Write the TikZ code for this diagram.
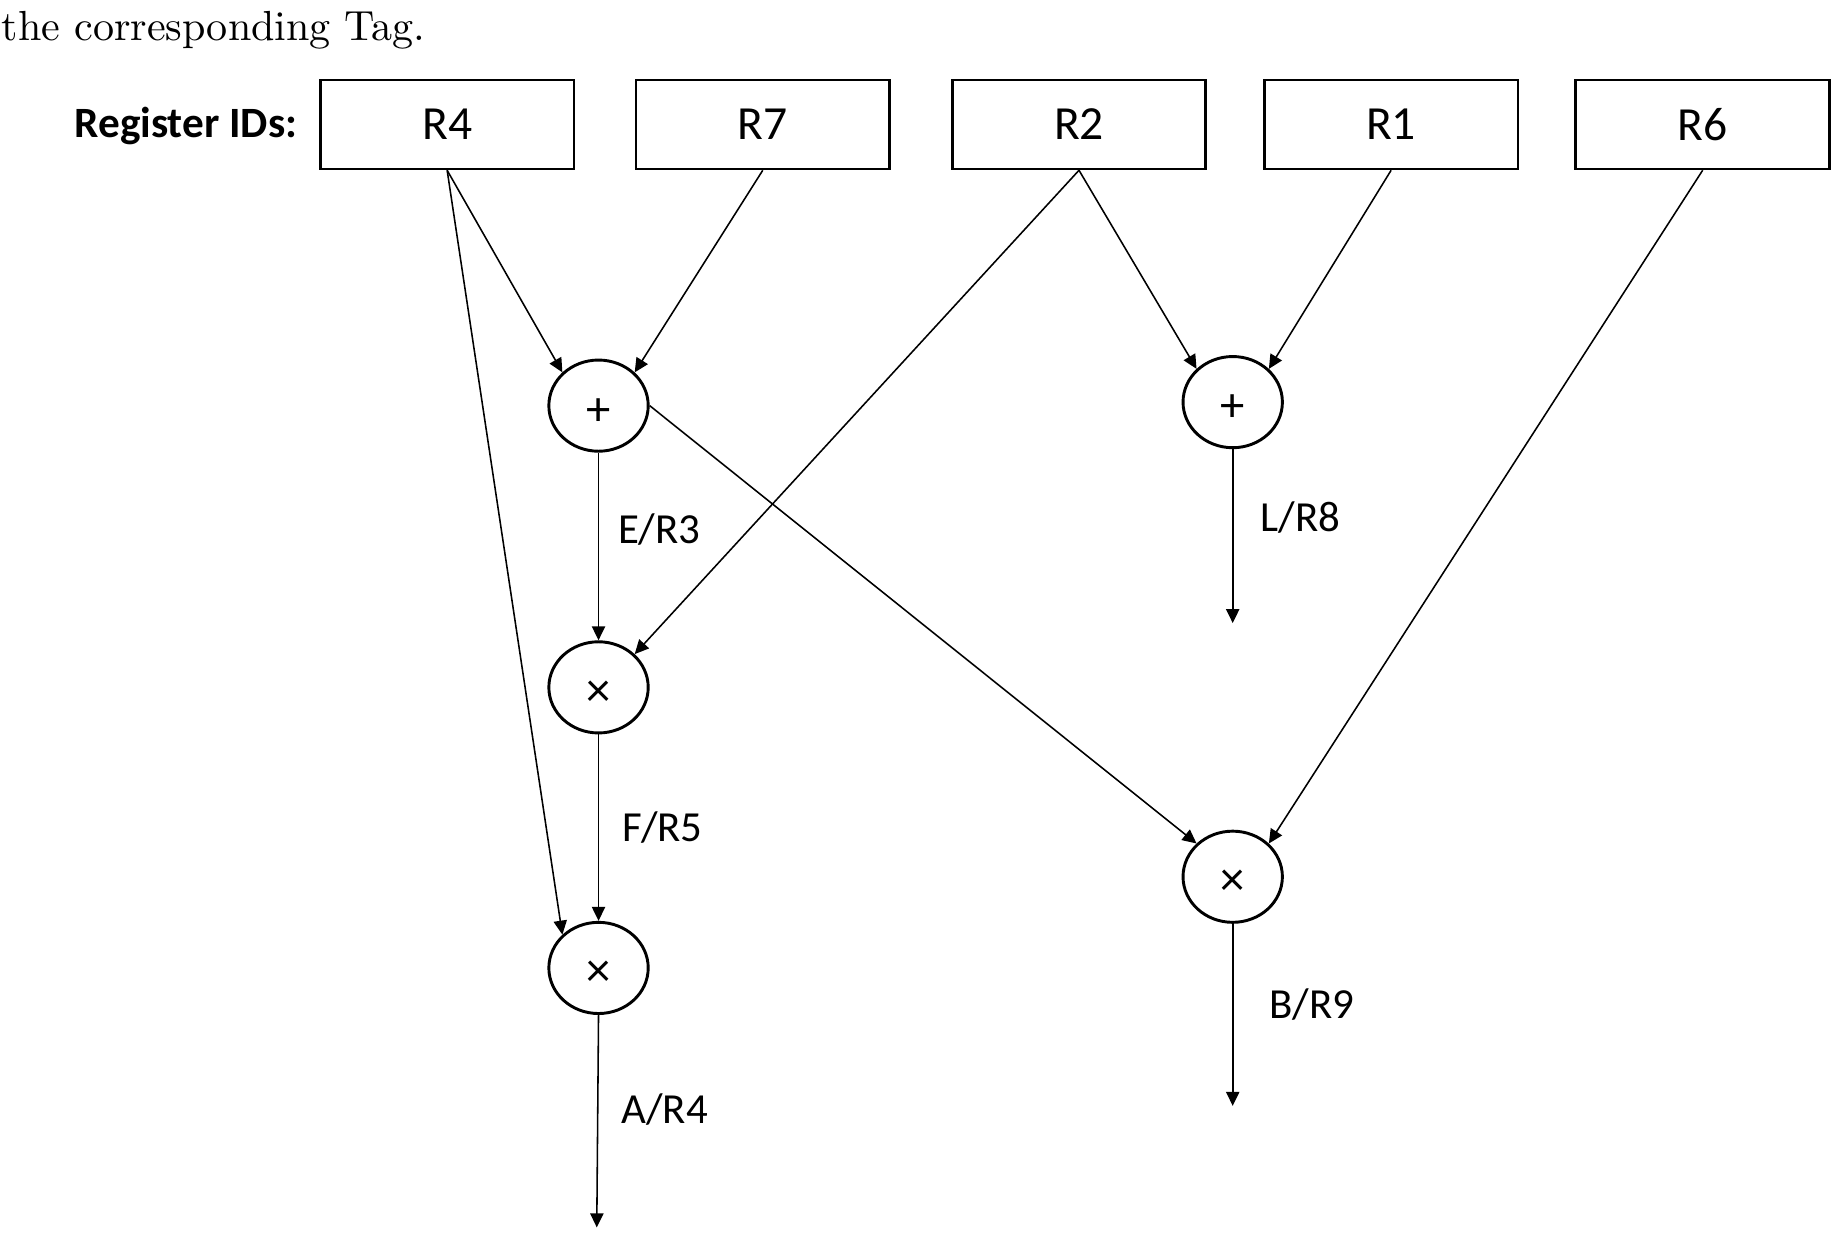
\documentclass[tikz,border=0pt]{standalone}
\usepackage{fontspec}
\newfontfamily\calib{Carlito}
\usetikzlibrary{shapes.geometric,arrows.meta}

% operator glyph, lowered onto the circle's centre while keeping its box
\newcommand{\opsym}[1]{\raisebox{-1.6pt}[\height][\depth]{#1}}

\begin{document}
\begin{tikzpicture}[x=0.3pt,y=-0.3pt,
  reg/.style={draw, line width=0.7pt, minimum width=65.1pt, minimum height=22.8pt,
    inner sep=0pt, font=\calib\fontsize{12.2}{14}\selectfont},
  op/.style={draw, ellipse, line width=0.75pt, minimum width=25.5pt, minimum height=23.4pt,
    inner sep=0pt, font=\calib\fontsize{12.5}{14}\selectfont},
  wire/.style={line width=0.4pt, -{Triangle[length=3.6pt,width=3.4pt]}},
  tag/.style={anchor=base west, inner sep=0pt, font=\calib\fontsize{11}{13}\selectfont}
]
\useasboundingbox (0,0) rectangle (1568,1062);

% caption line above the figure
\node[anchor=base west, inner sep=0pt, font=\fontsize{10.8}{13}\selectfont] (cap) at (1,35) {the corresponding Tag.};

% register row
\node[anchor=base east, inner sep=0pt, font=\calib\bfseries\fontsize{11.1}{14}\selectfont] (hdr) at (255,118) {Register IDs:};
\node[reg] (r4) at (382.5,106.5) {R4};
\node[reg] (r7) at (652.5,106.5) {R7};
\node[reg] (r2) at (923,106.5) {R2};
\node[reg] (r1) at (1190,106.5) {R1};
\node[reg] (r6) at (1456.5,106.5) {R6};

% operations
\node[op] (p1) at (512,347) {\opsym{+}};
\node[op] (p2) at (1054.5,344) {\opsym{+}};
\node[op] (t1) at (512,588) {\opsym{×}};
\node[op] (t2) at (512,828) {\opsym{×}};
\node[op] (t3) at (1054.5,750) {\opsym{×}};

% result ends
\coordinate (o1) at (1054.5,533);
\coordinate (o2) at (1054.5,946);
\coordinate (o3) at (510.5,1050);

% operand wires
\draw[wire] (r4.south) -- (p1.north west);
\draw[wire] (r7.south) -- (p1.north east);
\draw[wire] (r4.south) -- (t2.north west);
\draw[wire] (r2.south) -- (t1.north east);
\draw[wire] (r2.south) -- (p2.north west);
\draw[wire] (r1.south) -- (p2.north east);
\draw[wire] (r6.south) -- (t3.north east);
\draw[wire] (p1.east) -- (t3.north west);

% result wires
\draw[wire] (p1.south) -- (t1.north);
\draw[wire] (t1.south) -- (t2.north);
\draw[wire] (p2.south) -- (o1);
\draw[wire] (t3.south) -- (o2);
\draw[wire] (t2.south) -- (o3);

% result tags
\node[tag] (e) at (528,465) {E/R3};
\node[tag] (l) at (1078,455) {L/R8};
\node[tag] (f) at (532,720) {F/R5};
\node[tag] (b) at (1085,871) {B/R9};
\node[tag] (a) at (531,961) {A/R4};
\end{tikzpicture}
\end{document}
